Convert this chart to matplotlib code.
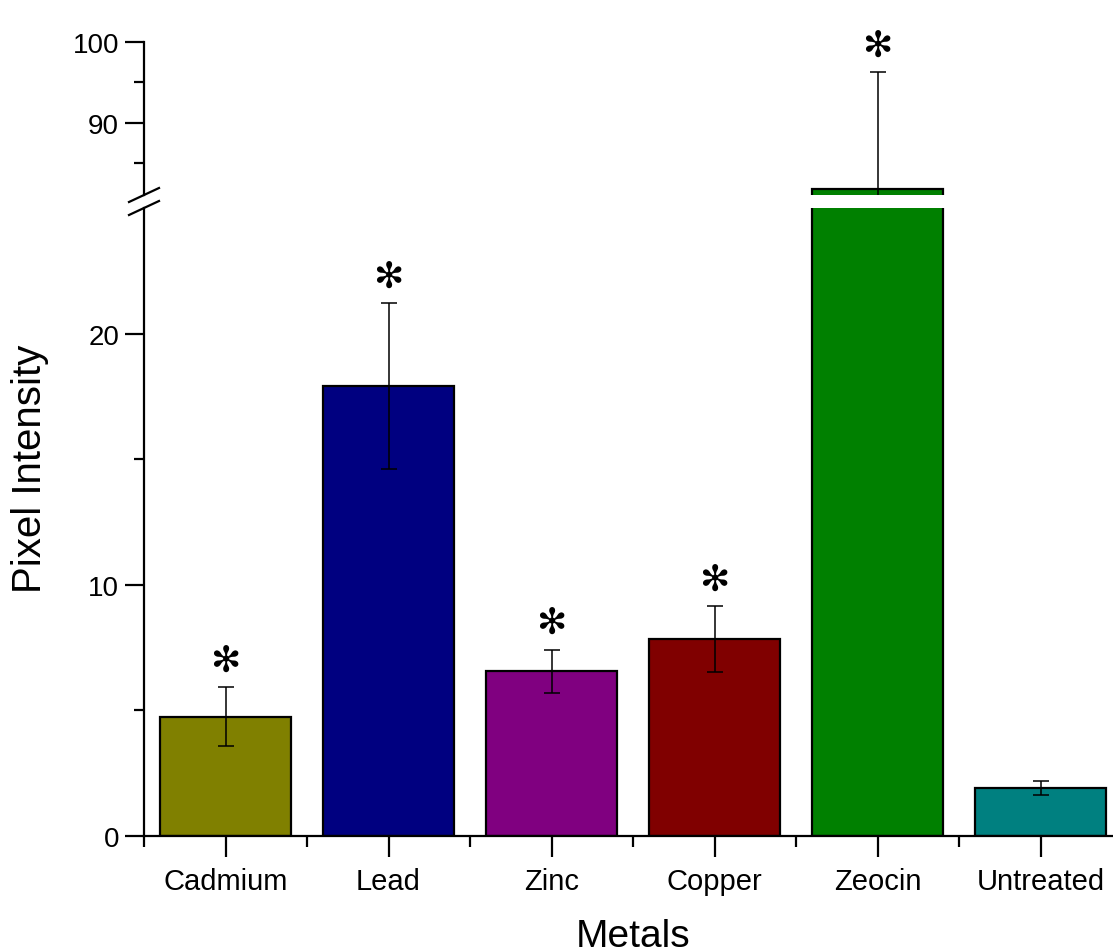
import numpy as np
import matplotlib
matplotlib.use('Agg')
import matplotlib.pyplot as plt
from matplotlib.lines import Line2D

# Mean pixel intensity per treatment, with error bars
metals = ['Cadmium', 'Lead', 'Zinc', 'Copper', 'Zeocin', 'Untreated']
intensity = [4.75, 17.9, 6.56, 7.84, 81.7, 1.92]
error = [1.17, 3.3, 0.86, 1.3, 14.6, 0.28]
significant = [True, True, True, True, True, False]
colors = ['#808000', '#000080', '#800080', '#800000', '#008000', '#008080']

plt.rcParams['font.family'] = ['Liberation Sans', 'DejaVu Sans']

W, H = 1113, 953
fig = plt.figure(figsize=(W / 100, H / 100), dpi=100)

# broken y axis: lower panel 0-25, upper panel 81-100
ax_low = fig.add_axes([144 / W, (H - 837) / H, 978 / W, 628 / H])
ax_high = fig.add_axes([144 / W, (H - 196) / H, 978 / W, 152.7 / H])

x = np.arange(len(metals))
for ax in (ax_low, ax_high):
    ax.bar(x, intensity, width=0.8, color=colors, edgecolor='black', linewidth=1.6)
    ax.errorbar(x, intensity, yerr=error, fmt='none', ecolor='black',
                elinewidth=1.1, capsize=5.5, capthick=1.1)
    ax.set_xlim(-0.5, 5.5)
    for s in ['top', 'right']:
        ax.spines[s].set_visible(False)
    ax.spines['left'].set_linewidth(1.6)
    ax.spines['bottom'].set_linewidth(1.6)
    ax.tick_params(axis='y', which='major', direction='out', length=14, width=1.6,
                   labelsize=20, pad=4)
    ax.tick_params(axis='y', which='minor', direction='out', length=7, width=1.6)

ax_low.set_ylim(0, 25)
ax_low.set_yticks([0, 10, 20])
ax_low.set_yticks([5, 15], minor=True)
ax_low.set_xticks(x)
ax_low.set_xticklabels(metals)
ax_low.set_xticks(np.arange(-0.5, 6, 1), minor=True)
ax_low.tick_params(axis='x', which='major', direction='out', length=15, width=1.6,
                   labelsize=21, pad=7)
ax_low.tick_params(axis='x', which='minor', direction='out', length=8, width=1.6)

ax_high.set_ylim(81, 100)
ax_high.set_yticks([90, 100])
ax_high.set_yticks([85, 95], minor=True)
ax_high.spines['bottom'].set_visible(False)
ax_high.set_xticks([])

# significance stars above the error bars
for i in range(len(metals)):
    if not significant[i]:
        continue
    top = intensity[i] + error[i]
    ax = ax_high if top > 25 else ax_low
    ax.annotate('\u273b', xy=(i, top), xytext=(0, 19), textcoords='offset points',
                ha='center', va='center', fontsize=26, family='DejaVu Sans',
                annotation_clip=False)

# break marks on the y axis
for yc in (196, 209):
    fig.add_artist(Line2D([129 / W, 159 / W], [(H - yc - 7) / H, (H - yc + 7) / H],
                          color='black', lw=1.6, transform=fig.transFigure))

fig.text(30 / W, (H - 469) / H, 'Pixel Intensity', rotation=90, ha='center', va='center',
         fontsize=29)
fig.text(633 / W, (H - 946.7) / H, 'Metals', ha='center', va='baseline', fontsize=28)

fig.savefig('out.png', dpi=100)
